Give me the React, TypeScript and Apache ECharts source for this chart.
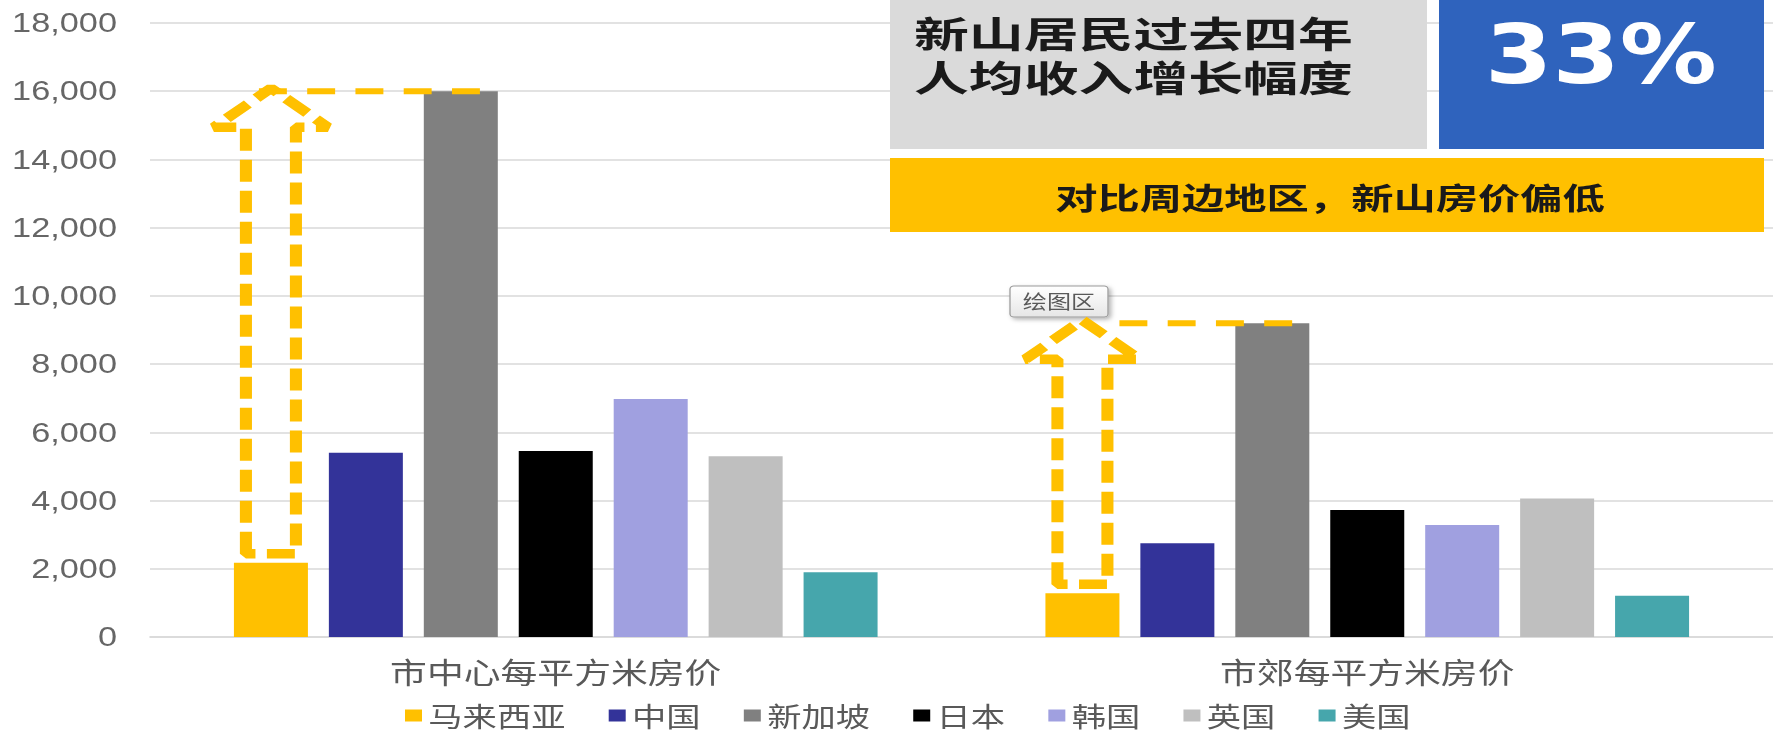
import React, { useEffect, useRef } from 'react';
import * as echarts from 'echarts';

// ---- data ----
const categories = ['市中心每平方米房价', '市郊每平方米房价'];
const countries = ['马来西亚', '中国', '新加坡', '日本', '韩国', '英国', '美国'];
const malaysia = [2180, 1280];
const china = [5400, 2750];
const singapore = [16000, 9200];
const japan = [5450, 3720];
const korea = [6980, 3280];
const uk = [5300, 4060];
const usa = [1900, 1210];
const seriesValues = [malaysia, china, singapore, japan, korea, uk, usa];
const colors = ['#FFC000', '#333399', '#808080', '#000000', '#A0A0E0', '#BFBFBF', '#46A6AC'];
const yMin = 0;
const yMax = 18000;
const yInterval = 2000;

const headlineLines = ['新山居民过去四年', '人均收入增长幅度'];
const headlineValue = '33%';
const subtitle = '对比周边地区，新山房价偏低';
const plotAreaTip = '绘图区';

// ---- layout ----
const FULL_W = 1773;
const H = 738;
const W = 1396;
const S = FULL_W / W; // horizontal stretch of the reference picture

const CJK = '"Noto Sans CJK SC", "Noto Sans", sans-serif';
const YELLOW = '#FFC000';
// where each dashed guide line starts, relative to the arrow tip (full-width px)
const guideStartOffset = [-12, 37];

export default function App() {
  const ref = useRef<HTMLDivElement>(null);

  useEffect(() => {
    document.body.style.margin = '0';
    document.body.style.overflow = 'hidden';
    const chart = echarts.init(ref.current as HTMLDivElement, null, { renderer: 'svg' });
    const bw = 74 / S;
    const gapRatio = 0.283;

    const option: any = {
      animation: false,
      textStyle: { fontFamily: CJK },
      grid: { left: 150 / S, right: -5 / S, top: 23, bottom: H - 637, containLabel: false },
      legend: {
        data: countries,
        left: 405 / S,
        top: 702,
        padding: 0,
        icon: 'rect',
        itemWidth: 17 / S,
        itemHeight: 12,
        itemGap: 34,
        textStyle: { fontSize: 27, color: '#595959', fontFamily: CJK },
      },
      xAxis: {
        type: 'category',
        data: categories,
        axisLine: { show: true, lineStyle: { color: '#d9d9d9', width: 1.5 } },
        axisTick: { show: false },
        axisLabel: { fontSize: 29, color: '#595959', margin: 20, fontFamily: CJK },
      },
      yAxis: {
        type: 'value',
        min: yMin,
        max: yMax,
        interval: yInterval,
        axisLine: { show: false },
        axisTick: { show: false },
        splitLine: { lineStyle: { color: '#d9d9d9', width: 1.5 } },
        axisLabel: {
          fontSize: 27,
          color: '#666666',
          margin: 26,
          fontFamily: '"Liberation Sans", Arial, sans-serif',
          formatter: (v: number) => v.toLocaleString('en-US'),
        },
      },
      series: seriesValues.map((vals, i) => ({
        name: countries[i],
        type: 'bar',
        data: vals,
        barWidth: bw,
        barGap: gapRatio * 100 + '%',
        itemStyle: { color: colors[i] },
      })),
    };
    chart.setOption(option);

    const gapPx = bw * gapRatio;
    const groupW = 7 * bw + 6 * gapPx;
    const catX = (k: number) => (chart.convertToPixel({ gridIndex: 0 } as any, [k, 0]) as number[])[0];
    const yPix = (v: number) => (chart.convertToPixel({ gridIndex: 0 } as any, [0, v]) as number[])[1];
    const barCenter = (k: number, i: number) => catX(k) - groupW / 2 + bw / 2 + i * (bw + gapPx);

    const graphics: any[] = [];

    // arrows from Malaysia bar up to Singapore level
    categories.forEach((_, k) => {
      const cx = barCenter(k, 0);
      const yBottom = yPix(malaysia[k]) - 9;
      const yTarget = yPix(singapore[k]);
      const yTip = yTarget - 3;
      const yBase = yTarget + 36;
      const hs = 25 / S;
      const wing = 57 / S;
      graphics.push({
        type: 'polygon',
        silent: true,
        z: 20,
        shape: {
          points: [
            [cx - hs, yBottom],
            [cx - hs, yBase],
            [cx - wing, yBase],
            [cx, yTip],
            [cx + wing, yBase],
            [cx + hs, yBase],
            [cx + hs, yBottom],
          ],
        },
        style: { fill: 'none', stroke: YELLOW, lineWidth: 9.5, lineDash: [22, 9], lineJoin: 'bevel' },
      });
      const xRight = barCenter(k, 2) + bw / 2;
      graphics.push({
        type: 'line',
        silent: true,
        z: 20,
        shape: { x1: cx + guideStartOffset[k] / S, y1: yTarget, x2: xRight, y2: yTarget },
        style: { stroke: YELLOW, lineWidth: 6, lineDash: [22, 16] },
      });
    });

    // "绘图区" tooltip
    graphics.push({
      type: 'group',
      silent: true,
      z: 30,
      children: [
        {
          type: 'rect',
          shape: { x: 1010 / S, y: 286, width: 98 / S, height: 31, r: 3 },
          style: {
            fill: new echarts.graphic.LinearGradient(0, 0, 0, 1, [
              { offset: 0, color: '#ffffff' },
              { offset: 1, color: '#e6e6e6' },
            ]),
            stroke: '#9a9a9a',
            lineWidth: 1,
            shadowBlur: 4,
            shadowOffsetX: 2,
            shadowOffsetY: 2,
            shadowColor: 'rgba(0,0,0,0.3)',
          },
        },
        {
          type: 'text',
          x: 1059 / S,
          y: 301,
          style: {
            text: plotAreaTip,
            fontSize: 19,
            fontFamily: CJK,
            fill: '#595959',
            align: 'center',
            verticalAlign: 'middle',
            textAlign: 'center',
            textVerticalAlign: 'middle',
          },
        },
      ],
    });

    // headline boxes
    graphics.push(
      {
        type: 'rect',
        silent: true,
        z: 40,
        shape: { x: 890 / S, y: 0, width: (1427 - 890) / S, height: 149 },
        style: { fill: '#DADADA' },
      },
      {
        type: 'rect',
        silent: true,
        z: 40,
        shape: { x: 1439 / S, y: 0, width: (1764 - 1439) / S, height: 149 },
        style: { fill: '#2F63BD' },
      },
      {
        type: 'rect',
        silent: true,
        z: 40,
        shape: { x: 890 / S, y: 158, width: (1764 - 890) / S, height: 74 },
        style: { fill: YELLOW },
      }
    );
    headlineLines.forEach((line, i) => {
      graphics.push({
        type: 'text',
        silent: true,
        z: 41,
        x: 914 / S,
        y: 32 + i * 44,
        scaleX: 1.2,
        style: {
          text: line,
          fontSize: 36,
          fontWeight: 'bold',
          fontFamily: CJK,
          fill: '#1a1a1a',
          align: 'left',
          verticalAlign: 'middle',
          textAlign: 'left',
          textVerticalAlign: 'middle',
        },
      });
    });
    graphics.push(
      {
        type: 'text',
        silent: true,
        z: 41,
        x: 1601 / S,
        y: 55,
        scaleX: 0.93,
        style: {
          text: headlineValue,
          fontSize: 82,
          fontWeight: 'bold',
          fontFamily: '"DejaVu Sans", Verdana, sans-serif',
          fill: '#ffffff',
          align: 'center',
          verticalAlign: 'middle',
          textAlign: 'center',
          textVerticalAlign: 'middle',
        },
      },
      {
        type: 'text',
        silent: true,
        z: 41,
        x: 1330 / S,
        y: 196,
        scaleX: 1.11,
        style: {
          text: subtitle,
          fontSize: 30,
          fontWeight: 'bold',
          fontFamily: CJK,
          fill: '#1a1a1a',
          align: 'center',
          verticalAlign: 'middle',
          textAlign: 'center',
          textVerticalAlign: 'middle',
        },
      }
    );

    chart.setOption({ graphic: graphics });

    return () => {
      chart.dispose();
    };
  }, []);

  return (
    <div
      ref={ref}
      style={{
        position: 'absolute',
        left: 0,
        top: 0,
        width: W,
        height: H,
        transform: `scaleX(${S})`,
        transformOrigin: '0 0',
      }}
    />
  );
}
